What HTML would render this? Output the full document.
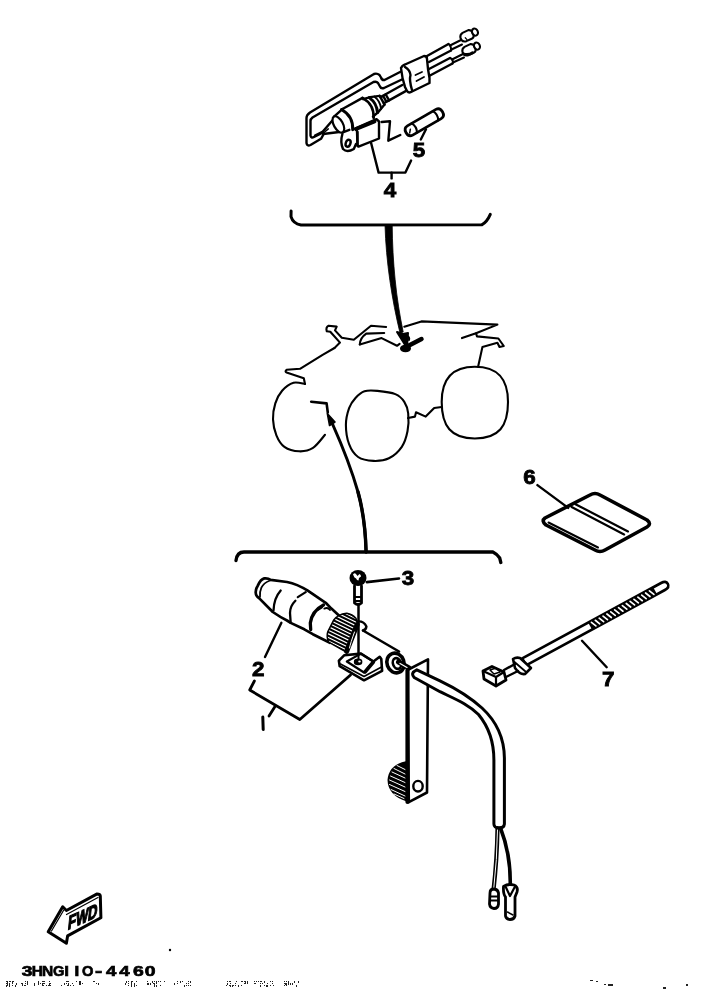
<!DOCTYPE html>
<html><head><meta charset="utf-8">
<style>
html,body{margin:0;padding:0;background:#fff;}
body{width:701px;height:989px;overflow:hidden;position:relative;}
svg{position:absolute;left:0;top:0;}
.t{-webkit-font-smoothing:antialiased;}
.t{font-family:"Liberation Sans",sans-serif;font-weight:bold;fill:#000;}
</style></head><body>
<svg width="701" height="989" viewBox="0 0 701 989" style="will-change:transform">
<g fill="none" stroke="#000" stroke-width="2.4" stroke-linecap="round" stroke-linejoin="round">

<!-- ===== TOP ASSEMBLY ===== -->
<!-- bracket wire double line -->
<path d="M401,71.5 L384.5,80 Q382,80.5 381,77.5 L379.5,75 Q377,73 374,74 L310,112.5 Q306.5,115 306.5,118 L306.5,143 Q307,146.5 310.5,145 L321,138.8 L324,133.5"/>
<path d="M405,78 L384,88 Q381,89 380,86.5 L378,83 Q376.5,81 373.5,82 L312.5,117.5 Q310.5,119 310.5,121 L310.5,135.5 Q311,138.5 314,137 L323,132.5"/>
<!-- wire from tip -->
<path d="M315,135.5 L322,132"/>

<!-- coil in rotated frame -->
<g transform="translate(341,123) rotate(-29)">
  <path d="M-21,-1 L-6,-6.5 M-21,1 L-6,7" />
  <path d="M-3,-9 L8,-11.5 M-3,9 L4,10" />
  <ellipse cx="-3" cy="0" rx="4.5" ry="9" fill="#fff" stroke-width="2.2"/>
  <path d="M-19,0 L-14,-1" stroke-width="1.5"/>
  <path d="M7,-11.5 L31,-11.5"/>
  <path d="M7,-11.5 Q14,0 7,11.5" stroke-width="3"/>
  <path d="M31,-11.5 Q38,0 31,11.5" stroke-width="2.6"/>
  <path d="M31,-10 L38,-8.5 L47,-5 M31,10 L38,8.5 L47,5"/>
  <path d="M37,-8.5 Q41,0 37,8.5" stroke-width="3"/>
  <path d="M42,-7 Q45,0 42,7" stroke-width="2"/>
  <path d="M47,-5 L47,5"/>
  <path d="M47,-3.5 L53,-3.5 M47,3.5 L53,3.5 M50,-3.5 L50,3.5 M53,-3.5 L53,3.5"/>
  <path d="M53,-3.5 L72,-3.5 M53,3.5 L72,3.5"/>
</g>
<!-- connector block -->
<path d="M355,128.5 L376.5,119.2 L379,121.5 L379,138.5 L358.5,146.6 L357.5,146 L357,131 Z" fill="#fff"/>
<path d="M356,129 L374.5,121.5" stroke-width="4"/>
<path d="M357.5,132 L357.5,145.5"/>
<!-- mount tab -->
<path d="M342.4,134 Q340,142 343,149 Q347,153 353.8,149 L356,144" fill="#fff"/>
<ellipse cx="348.1" cy="143.2" rx="2.3" ry="3.6" transform="rotate(20 348.1 143.2)"/>
<!-- Z clip -->
<path d="M381.5,122 L390,121.3 L388.3,140.7 L400.3,135"/>

<!-- grommet -->
<path d="M401,68 Q402,65.5 405,64.5 L424,56 Q427,56 427,59 L428,69 L429.5,78 L429.5,83 L412,91.5 Q409,93.5 407,91 L405,87 Q402,78 401,68 Z" fill="#fff"/>
<path d="M405,67 Q410,70 410.5,75 Q409,80 412,90"/>
<path d="M415.5,75 L422,72 M416.5,81 L424,77" stroke-width="1.8"/>
<!-- upper cable -->
<path d="M427,56 L448.5,44 M429,62 L451,50.5"/>
<path d="M448.5,44 Q451.5,46 451,50.5" stroke-width="2"/>
<path d="M450,45.5 L461,40 M451.5,49.5 L462,44.5" stroke-width="2"/>
<g transform="translate(466,36.5) rotate(-25) scale(0.8)">
  <path d="M-7,-1.5 Q-6,-5.5 -2,-6 L6,-6 Q9,-5 9.5,-2 L9.5,2 Q9,5 6,5.5 L-2,5.5 Q-6,5 -7,1.5 Z" fill="#fff" stroke-width="2.6"/>
  <ellipse cx="12.5" cy="-0.3" rx="3.6" ry="4.6" fill="#fff" stroke-width="2.6"/>
  <path d="M-1.5,1 L-0.5,4" stroke-width="1.5"/>
</g>
<!-- lower cable -->
<path d="M429,69 L450,58 M430,75.5 L452.5,63.5"/>
<path d="M450,58 Q454,59.5 452.5,63.5" stroke-width="2"/>
<path d="M452,59.5 L463,54 M453,62.5 L464,57.5" stroke-width="2"/>
<g transform="translate(468,50.5) rotate(-25) scale(0.8)">
  <path d="M-7,-1.5 Q-6,-5.5 -2,-6 L6,-6 Q9,-5 9.5,-2 L9.5,2 Q9,5 6,5.5 L-2,5.5 Q-6,5 -7,1.5 Z" fill="#fff" stroke-width="2.6"/>
  <path d="M-7,1.5 Q-2,6 4,5" stroke-width="3.5"/>
  <ellipse cx="12.5" cy="-0.3" rx="3.6" ry="4.6" fill="#fff" stroke-width="2.6"/>
</g>

<!-- fuse -->
<g transform="translate(410,130.5) rotate(-30)">
  <path d="M0,-5.3 L33,-5.3 Q37.5,-5.3 37.5,0 Q37.5,5.3 33,5.3 L0,5.3 Q-4.5,5.3 -4.5,0 Q-4.5,-5.3 0,-5.3 Z" fill="#fff" stroke-width="2.8"/>
  <path d="M5,-5.3 Q8,0 5,5.3 M29.5,-5.3 Q32.5,0 29.5,5.3" stroke-width="2.2"/>
  <path d="M-1.5,2 L1,-1" stroke-width="1.5"/>
</g>
<path d="M426,129.2 L420.8,139.5"/>
<!-- bracket 4 -->
<path d="M371.1,143 L378.6,172.6 L405.4,172.6 L411.1,160.6"/>
<path d="M391.6,172.6 L391.6,178.4"/>

<!-- top brace -->
<path d="M291.1,211 L291,216.6 Q293,223.5 301,225 L481.7,224.8 Q487,222 490.3,214.3" stroke-width="3"/>
<!-- stem to atv -->
<path d="M385,225 L392.2,225 C392.5,262 396,298 403.2,332 L400,333 C392,300 386,262 385,225 Z" fill="#000" stroke-width="0.8"/>
<path d="M397,332 L403,334 L408,333 L407,348 Z" fill="#000" stroke-width="2"/>
<path d="M406,335.5 Q410,337 409,340" stroke-width="2"/>
<path d="M408,346 L421.5,339" stroke-width="4.5"/>
<ellipse cx="405.5" cy="348.5" rx="5.5" ry="3.8" fill="#000" stroke="none"/>

<!-- ===== ATV ===== -->
<g stroke-width="2.1">
<path d="M386.1,327 L371,325.7 L353.8,339.8 L341.8,337.7 L335,330.4 L336.7,326.6 L328.6,325.7 Q325.5,327.5 326.8,331.3 L330.3,331.7 L340,342.6 L334.5,348"/>
<path d="M359.8,344.5 Q360,338 366.2,333.6 L384.2,333"/>
<path d="M359.8,344.5 L381.6,338.1 L397,345.8 L399.6,343.9"/>
<path d="M334.5,348 L322.6,354.8 L300,368.8 L286.6,369.8 Q284.5,371.5 286.6,372.6 L303.8,378.3 L305,384"/>
<path d="M305.0,384.0 C303.1,383.8 297.3,381.7 293.5,382.8 C289.7,383.9 285.1,387.4 282.1,390.8 C279.1,394.2 276.8,398.6 275.3,403.4 C273.8,408.2 272.8,414.1 273.0,419.4 C273.2,424.7 274.5,430.7 276.4,435.3 C278.3,439.9 280.6,444.1 284.4,446.8 C288.2,449.5 294.4,451.1 299.2,451.3 C304.0,451.5 308.7,450.6 313.0,447.9 C317.3,445.1 323.0,437.0 325.0,434.8"/>
<path d="M311.2,401.7 L326.6,403.4 L327.8,412.5" stroke-width="2.6"/>
<path d="M404.3,326.7 L421.4,321.4 L497.4,324.6 L476,333.2 L462,338.1"/>
<path d="M476,333.2 L477,336.4 L498.4,338.5 L503.8,346 L499.5,347 L497.4,342.8 L482.4,347.1 L478.1,366.8"/>
<!-- middle wheel -->
<path d="M364.5,391.3 C368.1,390.1 372.3,390.4 377.4,390.9 C382.5,391.4 390.8,392.3 395.3,394.1 C399.8,395.9 402.2,398.6 404.3,401.8 C406.4,405.0 407.7,408.5 408.2,413.4 C408.7,418.3 408.6,425.7 407.5,431.3 C406.4,436.9 404.9,442.3 401.8,446.8 C398.7,451.3 393.6,456.0 388.9,458.3 C384.2,460.6 378.6,461.1 373.5,460.9 C368.4,460.7 362.2,459.8 358.1,457.0 C354.0,454.2 351.1,449.6 349.1,444.2 C347.1,438.8 345.9,430.9 345.9,424.9 C345.9,418.9 347.5,412.7 349.1,408.2 C350.7,403.7 352.9,400.8 355.5,398.0 C358.1,395.2 360.9,392.5 364.5,391.3 Z"/>
<path d="M408,418 L415,416.6 L416,412.3 L425.7,416.6 L434.2,408 L441.7,407"/>
<!-- rear wheel -->
<path d="M474.8,366.8 C499,366.8 508,380 508,402 C508,426 499,438.5 474.8,438.5 C451,438.5 441.7,426 441.7,402 C441.7,380 451,366.8 474.8,366.8 Z"/>
</g>
<!-- thin arrow line from bottom brace -->
<path d="M366.1,552 C365.5,528 363,510 358,492 C354,478 345,452 332.5,424" stroke-width="3"/>
<path d="M366.1,552 C365.5,528 363,510 358,492" stroke-width="3.4"/>
<path d="M327.3,413.5 L329.5,425.5 L335,422 Z" fill="#000" stroke-width="1.5"/>

<!-- bottom brace -->
<path d="M236,560.5 Q237,552 244,552 L492.9,552 Q497,554 499.7,558 L500.8,562.5" stroke-width="3.3"/>

<!-- ===== LOWER ASSEMBLY ===== -->
<!-- light 2 body -->
<path d="M270.7,579.8 L287,582 Q297,584 307.8,590.7 L325.7,602.8 L331.4,608.6 L340,616.4 L336,640 L329.9,642.8 L312.8,634.2 L304.3,629.3 L290.7,622.9 L287,620.5 Q280,617 272.8,612 L259.3,598.4 Q255.5,596 255.7,592 Q256,588 257.8,585.6 Q260.5,579.5 264.3,578.4 Q268,578 270.7,579.8 Z" fill="#fff" stroke-width="2.7"/>
<path d="M270,580.5 Q263.5,583 261.4,587.7 Q259.5,592 260,596.8" stroke-width="1.8"/>
<path d="M280.7,590.5 Q274,598 273.5,610.5" stroke-width="2.3"/>
<path d="M305.7,592.1 L297.8,597.1 M295.4,600.7 Q290,606 290,613 L290.7,622.9" stroke-width="2.3"/>
<path d="M323.5,605 Q312,611 310.3,623 L310.7,629.5" stroke-width="3.3"/>
<path d="M324.3,608.6 Q328,607 330,610 M318,610 L322,607.5" stroke-width="1.8"/>
<!-- knurled nut -->
<defs><clipPath id="nutc"><path d="M334.2,620.7 Q338,615 346.7,614 Q352,615 355.3,618.7 L357.2,624.5 Q352,640 346.7,651.4 L329.4,641.8 Q327,637 328.4,632.2 Z"/></clipPath></defs>
<path d="M334.2,620.7 Q338,615 346.7,614 Q352,615 355.3,618.7 L357.2,624.5 Q352,640 346.7,651.4 L329.4,641.8 Q327,637 328.4,632.2 Z" fill="#000" stroke-width="3"/>
<g clip-path="url(#nutc)"><path d="M320,601.0 l45,22 M320,604.6 l45,22 M320,608.2 l45,22 M320,611.8 l45,22 M320,615.4 l45,22 M320,619.0 l45,22 M320,622.6 l45,22 M320,626.2 l45,22 M320,629.8 l45,22 M320,633.4 l45,22 M320,637.0 l45,22 M320,640.6 l45,22 M320,644.2 l45,22 M320,647.8 l45,22" stroke="#fff" stroke-width="1.2" stroke-linecap="butt"/></g>
<path d="M357.2,624.5 Q351,640 346.7,651.4" stroke-width="5"/>
<path d="M354.5,632 Q350.5,643 349.5,648" stroke="#fff" stroke-width="1"/>
<!-- tube behind -->
<path d="M357.8,621.4 Q364,621 366.4,626.5 Q366,630 363,630.5" />
<path d="M363,630.5 L399,651.5" stroke-width="2.6"/>
<!-- bolt 3 -->
<path d="M358.5,605 L358.5,661" stroke-width="2"/>
<ellipse cx="358" cy="578" rx="8.5" ry="8" fill="#000" stroke="none"/>
<path d="M353,574.5 Q354.5,572.5 356,574 L357.5,576 L359.5,574 Q361,574.5 361,576.5 L359,578 L358.5,580.5 L357,580 Q356.5,578 354.5,577.5 Z" fill="#fff" stroke="none"/>
<path d="M354.5,586 L354.5,603 Q358,606 361.5,603 L361.5,586" fill="#fff" stroke-width="2.8"/>
<path d="M355,597 L361,597 M355,601 L361,601" stroke-width="2"/>
<path d="M366.8,582.1 L399,578.5" stroke-width="2.6"/>
<!-- plate -->
<path d="M344.4,655.2 L338.9,660.7 L339.7,666.2 L364,680.3 L382.1,670.9 L381.3,659.1 L379.7,656.8 L373.4,661.5 L360.9,653.6 Z" fill="#fff" stroke-width="2.6"/>
<path d="M346.8,661.5 L360.9,653.6 L373.4,661.5 L364,672.5 Z" stroke-width="2.2"/>
<path d="M340.5,664 L364,676.5 L381.5,667" stroke-width="1.6"/>
<path d="M365,672 L373.4,662" stroke-width="3.5"/>
<path d="M358.5,605 L358.5,661" stroke-width="2"/>
<ellipse cx="358.1" cy="661.9" rx="4.3" ry="3.3" fill="#000" stroke="none"/>
<ellipse cx="359.5" cy="661.5" rx="1.3" ry="1" fill="#fff" stroke="none"/>
<!-- right nut -->
<ellipse cx="395.5" cy="663" rx="8.5" ry="10" fill="#fff" stroke-width="3.6" transform="rotate(-20 395.5 663)"/>
<ellipse cx="397" cy="663.5" rx="4" ry="5.5" stroke-width="2.6" transform="rotate(-20 397 663.5)"/>
<path d="M398.5,662 L409,668" stroke-width="5"/>
<path d="M400,663.5 L407,667.5" stroke="#fff" stroke-width="1.3"/>
<!-- leaders 2,1 -->
<path d="M281.4,622.8 L265,657"/>
<path d="M254.4,681 L249.7,690 L299.8,719.5 L350.5,675" stroke-width="2.8"/>
<path d="M275,706.5 L269,716" stroke-width="2.8"/>
<path d="M262.8,717 L263.2,729.5" stroke-width="3"/>

<!-- lever -->
<path d="M407.5,670 L428,659.4 L427,792.5 L408.8,802.2 Z" fill="#fff" stroke-width="2.6"/>
<path d="M407.5,670 L407.5,802" stroke-width="4.2"/>
<ellipse cx="418" cy="786.2" rx="4.7" ry="5.3" stroke-width="2.4"/>
<path d="M407,762 Q390,765 388.5,780 Q389,795 407,800.5 Z" fill="#000" stroke-width="2"/>
<g stroke="#fff" stroke-width="1.1">
<path d="M397,765.5 L405,769.5 M394,768.5 L405,774 M392,772 L405,778 M390.5,776 L405,782.5 M389.5,780 L405,787 M389.5,784.5 L405,791.5 M391,789.5 L405,796 M394,794 L404,798.5" stroke-width="1"/>
</g>

<!-- rod -->
<path d="M416.8,669.8 L440,680.8 C455,688 470,697 482,708 C495,720 504.2,736 504.4,758 L504.4,824 Q504,828 499,828 Q494,828 493.9,824 L493.9,760 C493.9,742 488,726 478.5,714.5 C468,704 455,699 440,691.7 L414.2,677.5 Q410,673 416.8,669.8 Z" fill="#fff" stroke-width="3"/>

<!-- wires -->
<path d="M497.5,828 Q497,860 493.5,890" stroke-width="4.2"/>
<path d="M497.5,830 Q497,860 493.8,888" stroke="#fff" stroke-width="1"/>
<path d="M500.5,828 Q511,855 510.2,886" stroke-width="3.6"/>
<path d="M490,893 Q490,889 494,889 Q498,889.5 498.5,893 L498.5,904 Q498,908.5 494,908.5 Q490,908 489.5,904 Z" fill="#fff" stroke-width="2.8"/>
<path d="M491,896.5 L497.5,896.5 M491,900.5 L497.5,900.5" stroke-width="2"/>
<path d="M503.5,886.5 Q508,883.5 514,885 Q518.5,887 517,892 L515,897 L515,916 Q514,919.5 510,919.5 Q506,919 505.5,916 L505.5,897 Q503,894 503.5,886.5 Z" fill="#fff" stroke-width="2.8"/>
<path d="M506,887.5 L510,896 L514.5,887.5" stroke-width="2.2"/>
<path d="M507.5,912 L513,915" stroke-width="1.5"/>

<!-- cable tie 7 -->
<g transform="translate(663,586.5) rotate(-28.5)">
  <path d="M-158,-4 L0,-4 Q5.5,-4 5.5,0 Q5.5,4 0,4 L-158,4 Z" fill="#fff" stroke-width="2.6"/>
  <rect x="-83" y="-4" width="74" height="8" fill="#000" stroke="none"/>
  <path d="M-80.0,-2.6 L-77.8,2.6 M-75.6,-2.6 L-73.4,2.6 M-71.2,-2.6 L-69.0,2.6 M-66.8,-2.6 L-64.6,2.6 M-62.4,-2.6 L-60.2,2.6 M-58.0,-2.6 L-55.8,2.6 M-53.6,-2.6 L-51.4,2.6 M-49.2,-2.6 L-47.0,2.6 M-44.8,-2.6 L-42.6,2.6 M-40.4,-2.6 L-38.2,2.6 M-36.0,-2.6 L-33.8,2.6 M-31.6,-2.6 L-29.4,2.6 M-27.2,-2.6 L-25.0,2.6 M-22.8,-2.6 L-20.6,2.6 M-18.4,-2.6 L-16.2,2.6 M-14.0,-2.6 L-11.8,2.6" stroke="#fff" stroke-width="1.7" stroke-linecap="round"/>
</g>
<path d="M513,659 Q516,657 520,658 L531,668 L525,674 Q520,675 515,668 Z" fill="#fff" stroke-width="2.6"/>
<path d="M514.5,662 L525.5,671.5" stroke-width="1.8"/>
<path d="M504,670 L515,664 M506,677 L518,671" stroke-width="2.4"/>
<path d="M483,671 L492,666.5 L504,672 L506,680 L496,686 L484,679 Z" fill="#fff" stroke-width="2.8"/>
<path d="M483,671 L496,677 L504,672 M496,677 L496,686" stroke-width="2.2"/>
<path d="M490,670 L496,668 L500,672 L494,674 Z" stroke-width="1.5"/>
<path d="M582,640.8 L606.7,667.2" stroke-width="2.4"/>

<!-- pad 6 -->
<path d="M545,518 L590,495 Q595,492 600,495 L647,520 Q652,524 647,527 L605,550 Q600,553 595,550 L546,525 Q541,521 545,518 Z" stroke-width="3.6"/>
<path d="M548.5,522.5 L598,547.5" stroke-width="2"/>
<path d="M571.6,507 L624.1,534.4 M575.5,504.2 L628,531.4" stroke-width="2.2"/>
<path d="M537.4,485.1 L568.2,507.9"/>

<!-- FWD arrow -->
<path d="M48.2,931.7 L62.7,906.8 L66.4,910.5 L96.7,894.1 Q100,894 100.3,896 L100.9,917.7 L67.6,935.9 L66.4,943.2 Z" stroke-width="3"/>
<path d="M51.5,931 L63.5,910.5 M66.5,914.5 L98,897.5" stroke-width="1.2"/>
</g>

<!-- labels -->
<text class="t" font-size="19.5" text-anchor="middle" stroke="#000" stroke-width="0.8" transform="translate(419,157.1) scale(1.15,1)">5</text>
<text class="t" font-size="19.5" text-anchor="middle" stroke="#000" stroke-width="0.8" transform="translate(390,197.4) scale(1.15,1)">4</text>
<text class="t" font-size="19.5" text-anchor="middle" stroke="#000" stroke-width="0.8" transform="translate(408,585.2) scale(1.15,1)">3</text>
<text class="t" font-size="19.5" text-anchor="middle" stroke="#000" stroke-width="0.8" transform="translate(258.2,675.7) scale(1.15,1)">2</text>
<text class="t" font-size="19.5" text-anchor="middle" stroke="#000" stroke-width="0.8" transform="translate(608.2,686.4) scale(1.15,1)">7</text>
<text class="t" font-size="19.5" text-anchor="middle" stroke="#000" stroke-width="0.8" transform="translate(529.5,484.1) scale(1.15,1)">6</text>

<text class="t" font-size="19" stroke="#000" stroke-width="1.3" transform="translate(67.5,930) skewY(-24) skewX(-6) scale(0.68,1)">FWD</text>
<text class="t" font-size="15.5" text-anchor="middle" stroke="#000" stroke-width="0.7" transform="translate(27.2,976) scale(1.25,1)">3</text><text class="t" font-size="15.5" text-anchor="middle" stroke="#000" stroke-width="0.7" transform="translate(37.4,976) scale(1.0,1)">H</text><text class="t" font-size="15.5" text-anchor="middle" stroke="#000" stroke-width="0.7" transform="translate(47.7,976) scale(1.0,1)">N</text><text class="t" font-size="15.5" text-anchor="middle" stroke="#000" stroke-width="0.7" transform="translate(58.6,976) scale(0.95,1)">G</text><text class="t" font-size="15.5" text-anchor="middle" stroke="#000" stroke-width="0.7" transform="translate(66.5,976) scale(1.1,1)">I</text><text class="t" font-size="15.5" text-anchor="middle" stroke="#000" stroke-width="0.7" transform="translate(76.8,976) scale(1.1,1)">I</text><text class="t" font-size="15.5" text-anchor="middle" stroke="#000" stroke-width="0.7" transform="translate(87.7,976) scale(0.95,1)">O</text><text class="t" font-size="15.5" text-anchor="middle" stroke="#000" stroke-width="0.7" transform="translate(98.6,976) scale(1.4,1)">-</text><text class="t" font-size="15.5" text-anchor="middle" stroke="#000" stroke-width="0.7" transform="translate(111.2,976) scale(1.2,1)">4</text><text class="t" font-size="15.5" text-anchor="middle" stroke="#000" stroke-width="0.7" transform="translate(124.5,976) scale(1.2,1)">4</text><text class="t" font-size="15.5" text-anchor="middle" stroke="#000" stroke-width="0.7" transform="translate(138.3,976) scale(1.25,1)">6</text><text class="t" font-size="15.5" text-anchor="middle" stroke="#000" stroke-width="0.7" transform="translate(150.2,976) scale(1.25,1)">0</text>
<circle cx="170" cy="950" r="1.2" fill="#000"/>
<g fill="#222"><rect x="6" y="981" width="1" height="1"/><rect x="6" y="983" width="1" height="1"/><rect x="6" y="985" width="1" height="2"/><rect x="7" y="981" width="1" height="2"/><rect x="7" y="983" width="1" height="2"/><rect x="7" y="985" width="1" height="1"/><rect x="9" y="981" width="1" height="1"/><rect x="9" y="983" width="1" height="2"/><rect x="9" y="985" width="1" height="2"/><rect x="10" y="981" width="1" height="1"/><rect x="12" y="981" width="1" height="2"/><rect x="12" y="983" width="1" height="1"/><rect x="12" y="985" width="1" height="1"/><rect x="13" y="981" width="1" height="1"/><rect x="15" y="985" width="1" height="2"/><rect x="16" y="983" width="1" height="2"/><rect x="21" y="983" width="1" height="1"/><rect x="22" y="983" width="1" height="2"/><rect x="22" y="985" width="1" height="1"/><rect x="24" y="985" width="1" height="1"/><rect x="25" y="981" width="1" height="1"/><rect x="25" y="983" width="1" height="1"/><rect x="25" y="985" width="1" height="1"/><rect x="27" y="981" width="1" height="2"/><rect x="27" y="983" width="1" height="2"/><rect x="34" y="983" width="1" height="2"/><rect x="34" y="985" width="1" height="1"/><rect x="38" y="981" width="1" height="2"/><rect x="38" y="983" width="1" height="2"/><rect x="40" y="983" width="1" height="1"/><rect x="42" y="981" width="1" height="1"/><rect x="42" y="983" width="1" height="2"/><rect x="42" y="985" width="1" height="1"/><rect x="43" y="981" width="1" height="1"/><rect x="43" y="983" width="1" height="1"/><rect x="43" y="985" width="1" height="1"/><rect x="44" y="981" width="1" height="1"/><rect x="44" y="983" width="1" height="1"/><rect x="46" y="985" width="1" height="1"/><rect x="48" y="985" width="1" height="1"/><rect x="49" y="981" width="1" height="1"/><rect x="49" y="983" width="1" height="2"/><rect x="49" y="985" width="1" height="1"/><rect x="50" y="983" width="1" height="1"/><rect x="50" y="985" width="1" height="1"/><rect x="61" y="985" width="1" height="1"/><rect x="64" y="983" width="1" height="2"/><rect x="66" y="981" width="1" height="1"/><rect x="66" y="983" width="1" height="1"/><rect x="67" y="981" width="1" height="1"/><rect x="67" y="985" width="1" height="1"/><rect x="68" y="981" width="1" height="1"/><rect x="68" y="983" width="1" height="2"/><rect x="68" y="985" width="1" height="1"/><rect x="70" y="985" width="1" height="1"/><rect x="72" y="983" width="1" height="1"/><rect x="73" y="985" width="1" height="1"/><rect x="76" y="981" width="1" height="1"/><rect x="79" y="981" width="1" height="2"/><rect x="79" y="983" width="1" height="2"/><rect x="80" y="981" width="1" height="2"/><rect x="80" y="983" width="1" height="2"/><rect x="82" y="983" width="1" height="1"/><rect x="93" y="981" width="1" height="1"/><rect x="94" y="981" width="1" height="1"/><rect x="96" y="983" width="1" height="1"/><rect x="98" y="983" width="1" height="2"/><rect x="125" y="983" width="1" height="2"/><rect x="126" y="981" width="1" height="2"/><rect x="128" y="981" width="1" height="1"/><rect x="128" y="983" width="1" height="1"/><rect x="128" y="985" width="1" height="1"/><rect x="131" y="981" width="1" height="2"/><rect x="131" y="983" width="1" height="2"/><rect x="131" y="985" width="1" height="2"/><rect x="132" y="981" width="1" height="1"/><rect x="134" y="983" width="1" height="2"/><rect x="134" y="985" width="1" height="2"/><rect x="136" y="981" width="1" height="1"/><rect x="136" y="985" width="1" height="1"/><rect x="147" y="981" width="1" height="1"/><rect x="147" y="983" width="1" height="2"/><rect x="148" y="983" width="1" height="2"/><rect x="150" y="983" width="1" height="2"/><rect x="152" y="981" width="1" height="2"/><rect x="153" y="983" width="1" height="1"/><rect x="154" y="981" width="1" height="1"/><rect x="154" y="983" width="1" height="2"/><rect x="154" y="985" width="1" height="2"/><rect x="156" y="981" width="1" height="2"/><rect x="156" y="983" width="1" height="1"/><rect x="156" y="985" width="1" height="2"/><rect x="158" y="981" width="1" height="1"/><rect x="160" y="981" width="1" height="1"/><rect x="160" y="985" width="1" height="1"/><rect x="164" y="981" width="1" height="1"/><rect x="174" y="983" width="1" height="2"/><rect x="177" y="981" width="1" height="1"/><rect x="177" y="983" width="1" height="1"/><rect x="180" y="981" width="1" height="2"/><rect x="182" y="981" width="1" height="1"/><rect x="184" y="985" width="1" height="2"/><rect x="186" y="983" width="1" height="1"/><rect x="186" y="985" width="1" height="1"/><rect x="188" y="981" width="1" height="1"/><rect x="188" y="983" width="1" height="1"/><rect x="188" y="985" width="1" height="1"/><rect x="190" y="981" width="1" height="2"/><rect x="190" y="985" width="1" height="1"/><rect x="226" y="985" width="1" height="1"/><rect x="227" y="981" width="1" height="1"/><rect x="227" y="983" width="1" height="2"/><rect x="229" y="981" width="1" height="1"/><rect x="229" y="985" width="1" height="1"/><rect x="230" y="981" width="1" height="1"/><rect x="230" y="983" width="1" height="1"/><rect x="230" y="985" width="1" height="2"/><rect x="232" y="985" width="1" height="2"/><rect x="233" y="985" width="1" height="1"/><rect x="235" y="983" width="1" height="1"/><rect x="235" y="985" width="1" height="1"/><rect x="236" y="981" width="1" height="1"/><rect x="238" y="985" width="1" height="2"/><rect x="241" y="981" width="1" height="1"/><rect x="241" y="985" width="1" height="1"/><rect x="242" y="981" width="1" height="1"/><rect x="244" y="981" width="1" height="1"/><rect x="244" y="983" width="1" height="1"/><rect x="245" y="981" width="1" height="2"/><rect x="245" y="983" width="1" height="1"/><rect x="247" y="981" width="1" height="2"/><rect x="247" y="983" width="1" height="1"/><rect x="254" y="981" width="1" height="1"/><rect x="254" y="983" width="1" height="1"/><rect x="255" y="983" width="1" height="1"/><rect x="256" y="981" width="1" height="1"/><rect x="258" y="981" width="1" height="1"/><rect x="260" y="981" width="1" height="1"/><rect x="260" y="983" width="1" height="1"/><rect x="260" y="985" width="1" height="2"/><rect x="261" y="981" width="1" height="1"/><rect x="262" y="983" width="1" height="1"/><rect x="264" y="981" width="1" height="2"/><rect x="264" y="985" width="1" height="1"/><rect x="266" y="985" width="1" height="2"/><rect x="267" y="983" width="1" height="1"/><rect x="267" y="985" width="1" height="2"/><rect x="270" y="981" width="1" height="1"/><rect x="270" y="985" width="1" height="1"/><rect x="272" y="981" width="1" height="1"/><rect x="272" y="983" width="1" height="1"/><rect x="273" y="985" width="1" height="1"/><rect x="284" y="981" width="1" height="1"/><rect x="284" y="983" width="1" height="1"/><rect x="284" y="985" width="1" height="1"/><rect x="285" y="983" width="1" height="2"/><rect x="286" y="981" width="1" height="1"/><rect x="286" y="983" width="1" height="2"/><rect x="286" y="985" width="1" height="1"/><rect x="288" y="981" width="1" height="2"/><rect x="288" y="983" width="1" height="2"/><rect x="290" y="983" width="1" height="2"/><rect x="292" y="983" width="1" height="2"/><rect x="294" y="981" width="1" height="2"/><rect x="296" y="985" width="1" height="2"/><rect x="298" y="981" width="1" height="2"/><rect x="590" y="980" width="3" height="1"/><rect x="596" y="981" width="2" height="1"/><rect x="604" y="984" width="2" height="1"/><rect x="608" y="984" width="5" height="2"/><rect x="663" y="987" width="3" height="2"/><rect x="686" y="984" width="2" height="2"/></g>
</svg>
</body></html>
